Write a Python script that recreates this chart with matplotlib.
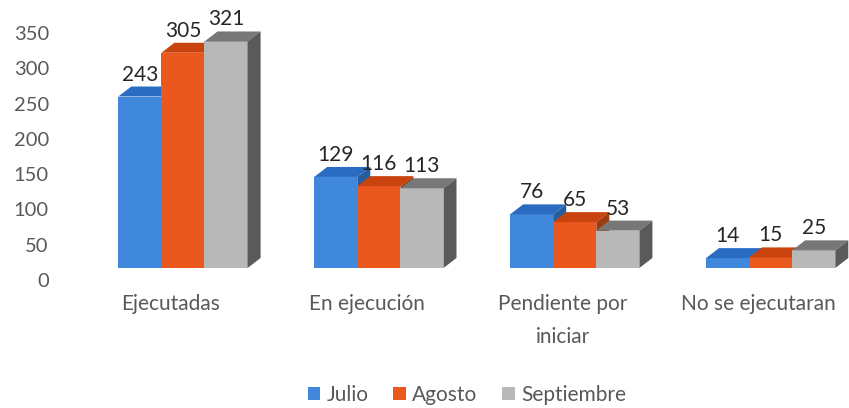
import matplotlib.pyplot as plt
import matplotlib.transforms as mtransforms
from matplotlib.patches import Polygon, Patch
import numpy as np

categories = ["Ejecutadas", "En ejecución", "Pendiente por\niniciar", "No se ejecutaran"]
series = ["Julio", "Agosto", "Septiembre"]
julio = [243, 129, 76, 14]
agosto = [305, 116, 65, 15]
septiembre = [321, 113, 53, 25]
values = [julio, agosto, septiembre]

# front / top / side colours per series
front = ["#3f88dc", "#ea581d", "#b8b8b8"]
top = ["#2a6cc2", "#c9430f", "#777777"]
side = ["#275d9c", "#a23a10", "#5a5a5a"]

plt.rcParams['font.family'] = ['Lato', 'DejaVu Sans']

fig = plt.figure(figsize=(8.49, 4.08), dpi=100)
ax = fig.add_axes([85 / 849, 128 / 408, 764 / 849, 247 / 408])
ax.set_xlim(-0.5, 3.4)
ax.set_ylim(0, 350)

w = 0.22
# depth of the fake 3d effect, in data units (13 px right, 10 px up)
px_x = 764 / 3.9
px_y = 247 / 350
ddx = 13 / px_x
ddy = 10 / px_y
# bars sit 12 px above the tick scale (excel 3d floor)
lift = mtransforms.ScaledTranslation(0, 12 / 100, fig.dpi_scale_trans)
tr = ax.transData + lift

x = np.arange(len(categories))
for k in range(3):
    xs = x + (k - 1) * w
    for xi, h in zip(xs, values[k]):
        x0, x1 = xi - w / 2, xi + w / 2
        ax.add_patch(Polygon([(x0, 0), (x1, 0), (x1, h), (x0, h)], closed=True,
                             facecolor=front[k], edgecolor='none', transform=tr, clip_on=False))
        ax.add_patch(Polygon([(x0, h), (x1, h), (x1 + ddx, h + ddy), (x0 + ddx, h + ddy)],
                             closed=True, facecolor=top[k], edgecolor='none', transform=tr,
                             clip_on=False))
        ax.add_patch(Polygon([(x1, 0), (x1 + ddx, ddy), (x1 + ddx, h + ddy), (x1, h)],
                             closed=True, facecolor=side[k], edgecolor='none', transform=tr,
                             clip_on=False))
        ax.annotate(str(h), (xi, h), xytext=(0, 24), textcoords='offset pixels',
                    ha='center', va='bottom', fontsize=15, color='#262626',
                    annotation_clip=False)

ax.set_yticks(range(0, 351, 50))
ax.set_xticks(x - 12 / px_x)
ax.set_xticklabels(categories, linespacing=1.8)
ax.tick_params(axis='y', length=0, pad=26, labelsize=14.5, labelcolor='#595959')
ax.tick_params(axis='x', length=0, pad=10, labelsize=15, labelcolor='#595959')
for s in ax.spines.values():
    s.set_visible(False)

handles = [Patch(facecolor=front[k], label=series[k]) for k in range(3)]
fig.legend(handles=handles, loc='center', bbox_to_anchor=(0.55, 0.032), ncol=3,
           frameon=False, fontsize=15, handlelength=0.6, handleheight=0.6,
           handletextpad=0.3, columnspacing=1.2, labelcolor='#595959')

fig.savefig("out.png", dpi=100)
